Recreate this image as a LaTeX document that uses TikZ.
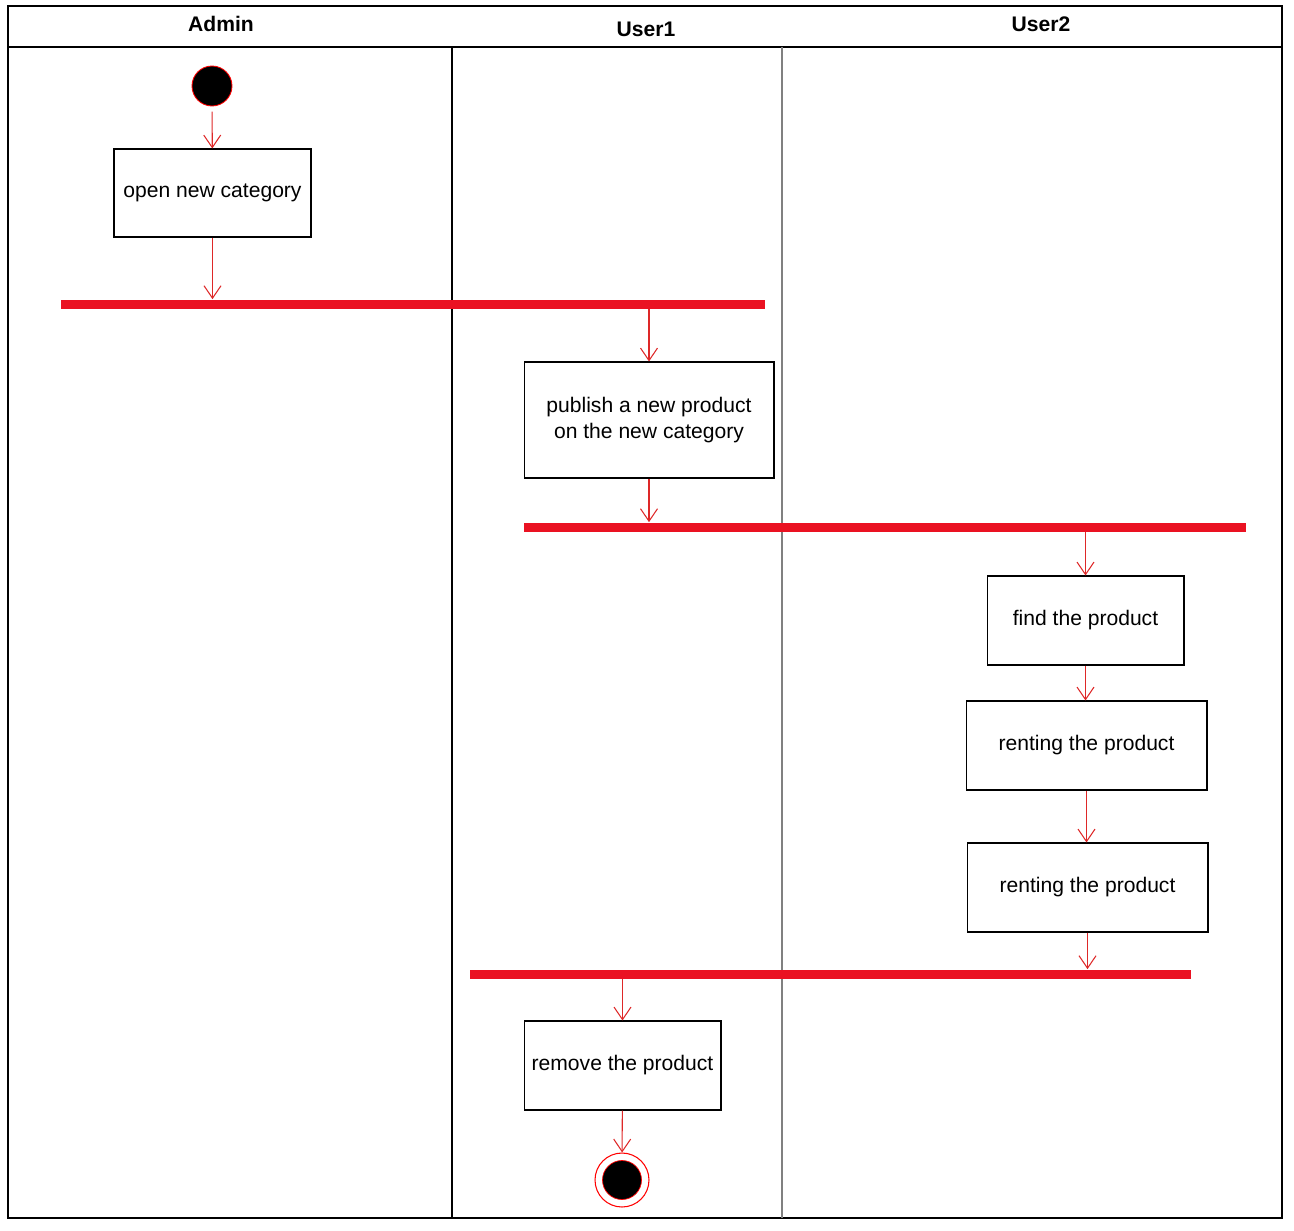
\documentclass[tikz,border=0pt]{standalone}
\usepackage{fontspec}
\setmainfont{Liberation Sans}
\usetikzlibrary{arrows.meta}
\definecolor{barred}{RGB}{234,18,34}
\definecolor{flowred}{RGB}{222,40,40}
\tikzset{
  actbox/.style={draw, line width=0.6pt, fill=white, align=center, font=\fontsize{12}{14.5}\selectfont},
  forkbar/.style={fill=barred, minimum height=0.18cm, inner sep=0pt},
  flow/.style={-{Straight Barb[length=0.25cm,width=0.34cm]}, draw=flowred, line width=0.6pt},
  lanehead/.style={font=\fontsize{12}{14.5}\selectfont\bfseries}
}
\begin{document}
\begin{tikzpicture}[x=0.02cm,y=-0.02cm]
  \useasboundingbox (0,0) rectangle (1294,1230);

  % swimlanes
  \draw[line width=1pt] (8,6) rectangle (1282,1218);
  \draw[line width=0.8pt] (8,47) -- (1282,47);
  \draw[line width=0.8pt] (452,47) -- (452,1218);
  \draw[gray, line width=1.5pt] (782,47) -- (782,1218);
  \node[lanehead] (admin) at (221,24) {Admin};
  \node[lanehead] (user1) at (646,29) {User1};
  \node[lanehead] (user2) at (1041,24) {User2};

  % start
  \node[circle, fill=black, draw=red, line width=0.5pt, minimum size=0.8cm, inner sep=0pt] (start) at (212,86) {};

  % activities
  \node[actbox, minimum width=3.94cm, minimum height=1.76cm] (opencat) at (212.5,193) {open new category};
  \node[actbox, minimum width=5.0cm, minimum height=2.32cm] (publish) at (649,420) {publish a new product\\on the new category};
  \node[actbox, minimum width=3.94cm, minimum height=1.78cm] (find) at (1085.5,620.5) {find the product};
  \node[actbox, minimum width=4.82cm, minimum height=1.78cm] (rentA) at (1086.5,745.5) {renting the product};
  \node[actbox, minimum width=4.82cm, minimum height=1.78cm] (rentB) at (1087.5,887.5) {renting the product};
  \node[actbox, minimum width=3.94cm, minimum height=1.78cm] (remove) at (622.5,1065.5) {remove the product};

  % fork / join bars
  \node[forkbar, minimum width=14.08cm] (barA) at (413,304) {};
  \node[forkbar, minimum width=14.44cm] (barB) at (885,527) {};
  \node[forkbar, minimum width=14.42cm] (barC) at (830.5,974) {};

  % end
  \node[circle, draw=red, line width=0.6pt, minimum size=1.08cm, inner sep=0pt] (finish) at (622,1180) {};
  \node[circle, fill=black, draw=red, line width=0.4pt, minimum size=0.78cm, inner sep=0pt] (finishin) at (finish) {};

  % flows
  \draw[flow, shorten <=3pt] (start) -- (opencat);
  \draw[flow] (opencat) -- (opencat |- barA.north);
  \draw[flow] (publish.north |- barA.south) -- (publish);
  \draw[flow] (publish) -- (publish |- barB.north);
  \draw[flow] (find.north |- barB.south) -- (find);
  \draw[flow] (find.south) -- (find.south |- rentA.north);
  \draw[flow] (rentA) -- (rentA |- rentB.north);
  \draw[flow] (rentB) -- (rentB |- barC.north);
  \draw[flow] (remove.north |- barC.south) -- (remove);
  \draw[flow] (remove) -- (finish);
\end{tikzpicture}
\end{document}
